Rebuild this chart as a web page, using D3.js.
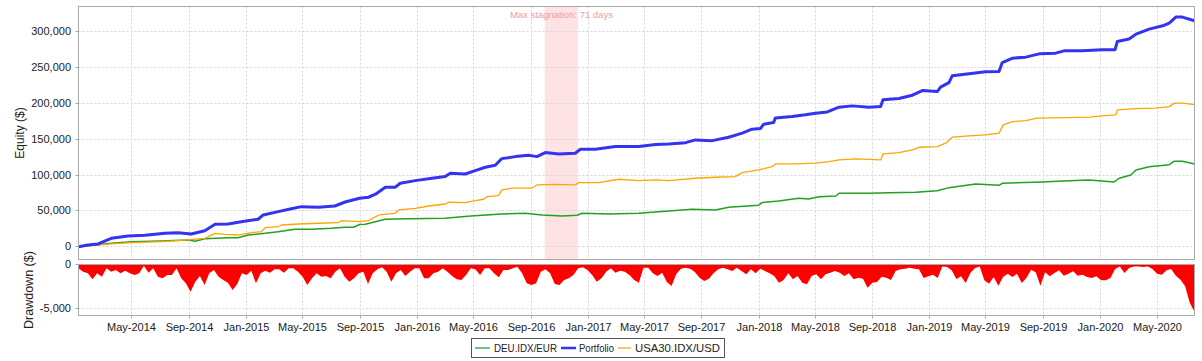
<!DOCTYPE html>
<html><head><meta charset="utf-8">
<script src="https://cdn.jsdelivr.net/npm/d3@7"></script>
<style>
body{margin:0;background:#fff;}
svg{display:block;font-family:"Liberation Sans",Arial,sans-serif;}
</style></head><body>
<svg id="chart" width="1202" height="361"></svg>
<script>
// ---------- DATA ----------
const seriesNames = ["DEU.IDX/EUR", "Portfolio", "USA30.IDX/USD"];
const dateRange = ["2014-01-07", "2020-07-20"];
const stagnationRange = ["2016-09-30", "2016-12-10"];
const stagnationLabel = "Max stagnation: 71 days";
const equityTicks = [0, 50000, 100000, 150000, 200000, 250000, 300000];
const drawdownTicks = [0, -5000];
const monthTicks = ["2014-05-01","2014-09-01","2015-01-01","2015-05-01","2015-09-01","2016-01-01","2016-05-01","2016-09-01","2017-01-01","2017-05-01","2017-09-01","2018-01-01","2018-05-01","2018-09-01","2019-01-01","2019-05-01","2019-09-01","2020-01-01","2020-05-01"];

const portfolioDates = ["2014-01-07","2014-01-27","2014-02-18","2014-03-18","2014-04-23","2014-05-29","2014-07-11","2014-08-08","2014-09-05","2014-10-04","2014-10-26","2014-11-23","2014-12-21","2015-01-26","2015-02-06","2015-03-10","2015-04-07","2015-04-29","2015-06-04","2015-07-09","2015-07-31","2015-08-31","2015-09-19","2015-10-04","2015-10-25","2015-11-15","2015-11-26","2015-12-28","2016-02-02","2016-03-01","2016-03-12","2016-04-13","2016-05-04","2016-05-26","2016-06-16","2016-06-30","2016-07-29","2016-08-26","2016-09-13","2016-10-01","2016-10-30","2016-12-04","2016-12-15","2017-01-16","2017-02-28","2017-04-19","2017-05-25","2017-06-22","2017-07-28","2017-08-18","2017-09-23","2017-10-28","2017-11-26","2017-12-17","2018-01-04","2018-01-11","2018-02-01","2018-02-05","2018-03-13","2018-04-10","2018-05-02","2018-05-27","2018-06-21","2018-07-19","2018-08-24","2018-09-18","2018-09-23","2018-10-27","2018-11-25","2018-12-16","2019-01-17","2019-01-24","2019-02-11","2019-02-18","2019-03-26","2019-04-30","2019-05-29","2019-06-05","2019-06-27","2019-07-25","2019-08-23","2019-09-27","2019-10-15","2019-11-23","2020-01-05","2020-02-01","2020-02-06","2020-03-02","2020-03-17","2020-04-14","2020-05-13","2020-05-27","2020-06-10","2020-06-24","2020-07-20"];
const portfolioValues = [0,2400,3800,11700,15000,15900,18700,19600,17700,22300,31300,31700,34900,38300,44300,48900,53000,55900,55000,56800,62400,67600,69000,73200,83000,83000,88500,92200,95500,97800,102500,101500,106100,110900,113700,122900,125700,127600,125700,131300,129500,130400,136000,136000,139700,139700,142500,143400,145200,149000,148000,152800,158400,164000,164800,171000,173200,179700,181600,184000,186300,188100,194700,196500,194700,195500,204900,206700,211400,217900,216500,222600,229000,238400,241200,244000,244400,257000,263100,264500,269100,270100,273300,273300,274700,274700,286300,289700,296600,303600,308200,312000,320400,320400,315200];

const usaDates = ["2014-01-07","2014-03-18","2014-04-30","2014-07-03","2014-08-29","2014-10-04","2014-10-26","2014-11-16","2014-12-14","2015-01-12","2015-02-02","2015-02-10","2015-03-10","2015-03-17","2015-04-22","2015-06-04","2015-07-16","2015-07-23","2015-08-31","2015-09-19","2015-10-11","2015-11-15","2015-11-22","2015-12-28","2016-01-26","2016-03-01","2016-03-08","2016-04-13","2016-05-04","2016-05-22","2016-05-29","2016-06-23","2016-06-30","2016-07-22","2016-09-02","2016-09-13","2016-10-23","2016-12-04","2016-12-11","2017-01-23","2017-03-07","2017-04-19","2017-05-25","2017-06-22","2017-08-18","2017-09-30","2017-11-11","2017-11-26","2017-12-31","2018-01-29","2018-02-05","2018-03-20","2018-05-02","2018-05-30","2018-06-21","2018-07-26","2018-09-18","2018-09-23","2018-10-27","2018-11-25","2018-12-10","2019-01-17","2019-02-04","2019-02-18","2019-03-26","2019-04-30","2019-05-29","2019-06-07","2019-06-27","2019-07-25","2019-08-19","2019-10-19","2019-12-08","2020-01-05","2020-02-03","2020-02-06","2020-03-17","2020-04-28","2020-05-27","2020-06-07","2020-06-24","2020-07-20"];
const usaValues = [0,3800,5600,7000,9400,11700,18700,17300,16300,19600,21000,26500,27900,30300,31700,32700,33500,36300,34900,36300,44300,46600,51300,53600,56800,59600,62000,61500,64200,66200,69800,71200,79200,81600,81600,86200,87100,86200,89400,89400,94100,92200,93200,92200,95500,96900,97800,103300,107100,111700,115500,115500,116500,118700,121100,122500,121100,129500,131300,135000,138800,139700,144400,152800,154600,156000,158400,170000,174600,176000,179300,180200,180700,182500,184000,190900,192700,193300,195500,200300,200300,198300];

const deuDates = ["2014-01-07","2014-03-18","2014-04-30","2014-07-03","2014-08-29","2014-09-13","2014-10-04","2014-11-23","2014-12-14","2015-01-05","2015-02-10","2015-03-10","2015-04-15","2015-05-20","2015-07-02","2015-07-31","2015-08-18","2015-08-31","2015-09-12","2015-10-25","2015-12-14","2016-03-01","2016-04-24","2016-06-30","2016-08-19","2016-09-24","2016-11-06","2016-12-08","2016-12-19","2017-02-14","2017-04-19","2017-06-22","2017-08-11","2017-09-30","2017-10-28","2017-12-31","2018-01-07","2018-02-12","2018-03-27","2018-04-17","2018-05-09","2018-06-14","2018-06-21","2018-08-24","2018-10-06","2018-12-02","2019-01-17","2019-02-11","2019-04-09","2019-05-29","2019-06-05","2019-08-30","2019-10-12","2019-12-08","2020-01-30","2020-02-10","2020-03-06","2020-03-17","2020-04-14","2020-05-27","2020-06-07","2020-06-24","2020-07-20"];
const deuValues = [0,4700,7000,8000,9400,7500,11200,12600,12600,16300,18700,21000,24300,24300,25700,27100,27100,31000,31300,38300,39100,39700,42900,45700,46600,44300,42900,43900,46600,45700,46600,49900,52200,51300,55000,57800,61500,63800,67600,66600,69800,70800,74600,74600,75400,76000,78200,82400,87600,85700,88500,90400,91800,93200,90400,95500,100100,107100,111700,114500,119300,119300,115500];

// drawdown, evenly spaced in time from dateRange[0] to dateRange[1]
const drawdownValues = [
-390,-780,-970,-1670,-970,-1360,-390,-780,-580,-970,
-660,-970,-1160,-970,-80,-890,-390,-1360,-1550,-1160,
-1160,-390,-1550,-2130,-3100,-1940,-1280,-2330,-970,-580,
-1360,-1740,-2050,-2910,-2210,-970,-1160,-660,-2130,-970,
-660,-890,-500,-500,-890,-390,-390,-780,-1360,-2330,
-1550,-970,-1360,-1280,-1550,-780,-390,-1360,-1940,-1550,
-970,-780,-2210,-970,-500,-270,-780,-1940,-970,-580,
-1280,-780,-390,-390,-1550,-1550,-970,-780,-390,-780,
-1280,-1670,-1740,-1160,-390,-500,-1160,-390,-390,-970,
-1430,-580,-580,-390,-190,-970,-2130,-2330,-2130,-780,
-500,-970,-2210,-2330,-1740,-1550,-1160,-390,-270,-580,
-1160,-1940,-1550,-780,-390,-890,-660,-780,-1160,-1740,
-2050,-310,-310,-970,-1280,-890,-1980,-2440,-1090,-430,
-310,-430,-810,-1470,-1860,-1590,-970,-500,-310,-500,
-700,-310,-700,-1090,-500,-970,-430,-700,-970,-1280,
-2050,-1740,-970,-1670,-1280,-2050,-2250,-1280,-1090,-1670,
-1090,-890,-700,-890,-1280,-970,-1670,-1470,-1590,-2640,
-2050,-1980,-1360,-1470,-1740,-700,-500,-430,-310,-430,
-500,-1510,-1320,-1120,-1510,-160,-230,-620,-1630,-1320,
-2090,-930,-350,-160,-1780,-2170,-1400,-2400,-1400,-1010,
-1400,-1010,-2090,-1510,-540,-850,-2400,-850,-1320,-930,
-620,-1240,-1010,-740,-1240,-1120,-1400,-1510,-1320,-1780,
-1780,-1510,-470,-160,-930,-350,-160,-160,-230,-160,
-470,-1010,-1120,-620,-470,-1240,-1710,-2480,-4420,-5450];

// ---------- SCALE SETTINGS ----------
const equityDomain = [-17860, 335160];
const drawdownDomain = [-5872, 58];

// ---------- DRAW ----------
const svg = d3.select("#chart");
const parse = d3.utcParse("%Y-%m-%d");
const fmtNum = d3.formatLocale({decimal: ".", thousands: ",", grouping: [3], currency: ["$", ""], minus: "-"}).format(",");
const fmtDate = d3.utcFormat("%b-%Y");

const L = 78.5, R = 1194.5, T1 = 6.5, B1 = 259.5, T2 = 264.5, B2 = 315.5;
const t0 = parse(dateRange[0]), t1 = parse(dateRange[1]);
const x = d3.scaleUtc().domain([t0, t1]).range([L, R]);
const yEq = d3.scaleLinear().domain(equityDomain).range([B1, T1]);
const yDD = d3.scaleLinear().domain(drawdownDomain).range([B2, T2]);
const crisp = v => Math.round(v - 0.5) + 0.5;

const defs = svg.append("defs");
defs.append("clipPath").attr("id", "c1").append("rect").attr("x", L).attr("y", T1).attr("width", R - L).attr("height", B1 - T1);
defs.append("clipPath").attr("id", "c2").append("rect").attr("x", L).attr("y", T2).attr("width", R - L).attr("height", B2 - T2);

// stagnation band
const s0 = x(parse(stagnationRange[0])), s1 = x(parse(stagnationRange[1]));
svg.append("rect").attr("x", s0).attr("y", T1).attr("width", s1 - s0).attr("height", B1 - T1).attr("fill", "#fde3e3");

// grid
const grid = svg.append("g").attr("stroke", "#d6d6d6").attr("stroke-dasharray", "2,2").attr("stroke-width", 1);
const mDates = monthTicks.map(parse);
mDates.forEach(d => {
  const xx = crisp(x(d));
  grid.append("line").attr("x1", xx).attr("x2", xx).attr("y1", T1).attr("y2", B1);
  grid.append("line").attr("x1", xx).attr("x2", xx).attr("y1", T2).attr("y2", B2);
});
equityTicks.forEach(t => {
  const yy = crisp(yEq(t));
  grid.append("line").attr("x1", L).attr("x2", R).attr("y1", yy).attr("y2", yy);
});
drawdownTicks.forEach(t => {
  const yy = crisp(yDD(t));
  grid.append("line").attr("x1", L).attr("x2", R).attr("y1", yy).attr("y2", yy);
});

svg.append("text").attr("x", (s0 + s1) / 2).attr("y", 18).attr("text-anchor", "middle")
  .attr("font-size", "9.5px").attr("fill", "#f29c9c").text(stagnationLabel);

// lines
const mk = (dates, vals) => dates.map((d, i) => ({t: parse(d), v: vals[i]}));
const line = d3.line().x(d => x(d.t)).y(d => yEq(d.v));
const g1 = svg.append("g").attr("clip-path", "url(#c1)").attr("fill", "none").attr("stroke-linejoin", "round");
g1.append("path").datum(mk(deuDates, deuValues)).attr("d", line).attr("stroke", "#22a022").attr("stroke-width", 1.5);
g1.append("path").datum(mk(usaDates, usaValues)).attr("d", line).attr("stroke", "#ffa500").attr("stroke-width", 1.3);
g1.append("path").datum(mk(portfolioDates, portfolioValues)).attr("d", line).attr("stroke", "#3333f0").attr("stroke-width", 3);

// drawdown area
const n = drawdownValues.length;
const ddData = drawdownValues.map((v, i) => ({t: new Date(+t0 + (t1 - t0) * i / (n - 1)), v}));
const area = d3.area().x(d => x(d.t)).y0(yDD(0)).y1(d => yDD(d.v));
svg.append("g").attr("clip-path", "url(#c2)").append("path").datum(ddData).attr("d", area).attr("fill", "#ff0000");

// borders
svg.append("rect").attr("x", L).attr("y", T1).attr("width", R - L).attr("height", B1 - T1).attr("fill", "none").attr("stroke", "#aaa");
svg.append("rect").attr("x", L).attr("y", T2).attr("width", R - L).attr("height", B2 - T2).attr("fill", "none").attr("stroke", "#aaa");

// y axes
const ax = svg.append("g").attr("font-size", "11px").attr("fill", "#222");
equityTicks.forEach(t => {
  const yy = crisp(yEq(t));
  ax.append("line").attr("x1", L - 3).attr("x2", L).attr("y1", yy).attr("y2", yy).attr("stroke", "#aaa");
  ax.append("text").attr("x", 71).attr("y", yy).attr("dy", "0.36em").attr("text-anchor", "end").text(fmtNum(t));
});
drawdownTicks.forEach(t => {
  const yy = crisp(yDD(t));
  ax.append("line").attr("x1", L - 3).attr("x2", L).attr("y1", yy).attr("y2", yy).attr("stroke", "#aaa");
  ax.append("text").attr("x", 71).attr("y", yy).attr("dy", "0.36em").attr("text-anchor", "end").text(fmtNum(t));
});
mDates.forEach(d => {
  const xx = crisp(x(d));
  ax.append("line").attr("x1", xx).attr("x2", xx).attr("y1", B2).attr("y2", B2 + 3).attr("stroke", "#aaa");
  ax.append("text").attr("x", xx).attr("y", 331).attr("text-anchor", "middle").text(fmtDate(d));
});

svg.append("text").attr("transform", `translate(24,${(T1 + B1) / 2}) rotate(-90)`).attr("text-anchor", "middle")
  .attr("font-size", "12px").attr("fill", "#222").text("Equity ($)");
svg.append("text").attr("transform", `translate(33,${(T2 + B2) / 2}) rotate(-90)`).attr("text-anchor", "middle")
  .attr("font-size", "12.5px").attr("fill", "#222").text("Drawdown ($)");

// legend
const lg = svg.append("g").attr("font-size", "10.5px").attr("fill", "#222");
lg.append("rect").attr("x", 471.5).attr("y", 338.5).attr("width", 253).attr("height", 19).attr("fill", "#fff").attr("stroke", "#555");
const legendItems = [
  {name: seriesNames[0], color: "#44b044", w: 1.5, x0: 475, x1: 490, tx: 494, tw: 63},
  {name: seriesNames[1], color: "#3333f0", w: 2.5, x0: 561, x1: 576, tx: 579, tw: 35},
  {name: seriesNames[2], color: "#ffb030", w: 1.5, x0: 618, x1: 631, tx: 635, tw: 85}
];
legendItems.forEach(it => {
  lg.append("line").attr("x1", it.x0).attr("x2", it.x1).attr("y1", 348).attr("y2", 348).attr("stroke", it.color).attr("stroke-width", it.w);
  lg.append("text").attr("x", it.tx).attr("y", 352).attr("textLength", it.tw).attr("lengthAdjust", "spacingAndGlyphs").text(it.name);
});
</script>
</body></html>
